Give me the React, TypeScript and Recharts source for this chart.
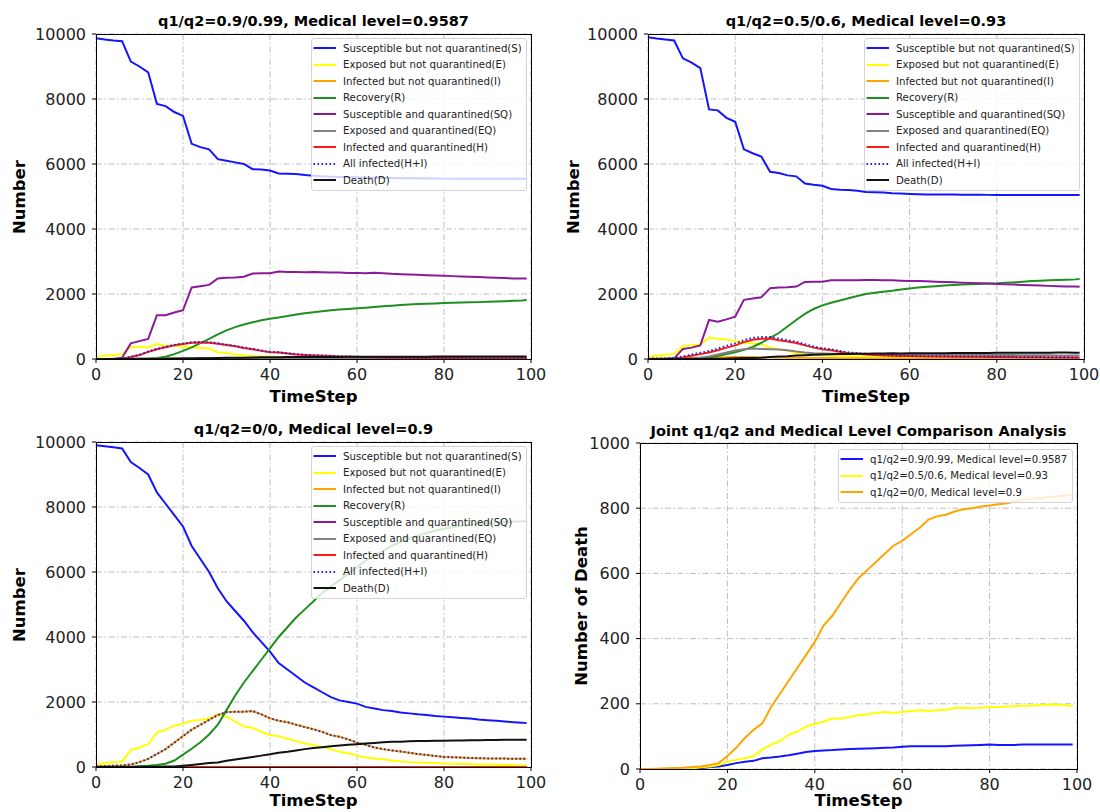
import { LineChart, Line, XAxis, YAxis, CartesianGrid } from 'recharts';

const FONT = '"DejaVu Sans", Verdana, sans-serif';

// time steps (every 2nd step plus the last one)
const T = [
    0, 2, 4, 6, 8, 10, 12, 14, 16, 18,
    20, 22, 24, 26, 28, 30, 32, 34, 36, 38,
    40, 42, 44, 46, 48, 50, 52, 54, 56, 58,
    60, 62, 64, 66, 68, 70, 72, 74, 76, 78,
    80, 82, 84, 86, 88, 90, 92, 94, 96, 98,
    99,
];

const X_TICKS = [0, 20, 40, 60, 80, 100];
const NUM_TICKS = [0, 2000, 4000, 6000, 8000, 10000];
const DEATH_TICKS = [0, 200, 400, 600, 800, 1000];

const TITLES = [
    'q1/q2=0.9/0.99, Medical level=0.9587',
    'q1/q2=0.5/0.6, Medical level=0.93',
    'q1/q2=0/0, Medical level=0.9',
];
const JOINT_TITLE = 'Joint q1/q2 and Medical Level Comparison Analysis';

const STATE_NAMES = [
    'Susceptible but not quarantined(S)',
    'Exposed but not quarantined(E)',
    'Infected but not quarantined(I)',
    'Recovery(R)',
    'Susceptible and quarantined(SQ)',
    'Exposed and quarantined(EQ)',
    'Infected and quarantined(H)',
    'All infected(H+I)',
    'Death(D)',
];

// ---- q1/q2=0.9/0.99 ----
const sA = [
    9870, 9830, 9800, 9780, 9150, 9000, 8820, 7850, 7780, 7600,
    7480, 6620, 6520, 6450, 6150, 6100, 6050, 6000, 5840, 5830,
    5800, 5710, 5700, 5690, 5660, 5640, 5620, 5610, 5600, 5600,
    5590, 5580, 5580, 5570, 5570, 5560, 5560, 5560, 5555, 5555,
    5550, 5550, 5550, 5550, 5550, 5550, 5550, 5550, 5550, 5550,
    5550,
];
const eA = [
    80, 100, 120, 150, 370, 370, 360, 470, 400, 400,
    390, 360, 340, 320, 200, 190, 140, 110, 90, 80,
    70, 60, 55, 50, 45, 40, 38, 35, 32, 30,
    28, 26, 25, 24, 22, 20, 19, 18, 17, 16,
    15, 14, 13, 13, 12, 12, 11, 11, 10, 10,
    10,
];
const iA = [
    2, 3, 4, 5, 6, 8, 10, 12, 14, 15,
    15, 15, 15, 14, 13, 12, 12, 11, 11, 10,
    10, 10, 9, 9, 9, 8, 8, 8, 7, 7,
    7, 7, 6, 6, 6, 6, 5, 5, 5, 5,
    5, 5, 5, 4, 4, 4, 4, 4, 4, 4,
    4,
];
const rA = [
    0, 0, 0, 0, 0, 5, 10, 30, 70, 150,
    250, 360, 490, 620, 760, 880, 980, 1060, 1130, 1190,
    1240, 1280, 1320, 1370, 1410, 1440, 1470, 1500, 1520, 1540,
    1560, 1580, 1600, 1620, 1640, 1660, 1680, 1690, 1700, 1710,
    1720, 1730, 1740, 1745, 1750, 1760, 1770, 1780, 1790, 1800,
    1820,
];
const sqA = [
    0, 0, 0, 40, 480, 550, 620, 1350, 1350, 1430,
    1500, 2200, 2240, 2280, 2480, 2500, 2510, 2530, 2630, 2640,
    2640, 2690, 2680, 2680, 2670, 2680, 2670, 2660, 2660, 2650,
    2650, 2640, 2650, 2640, 2620, 2610, 2600, 2590, 2580, 2570,
    2560, 2550, 2540, 2530, 2520, 2510, 2500, 2490, 2480, 2480,
    2480,
];
const eqA = [
    0, 0, 1, 2, 5, 8, 12, 15, 18, 20,
    22, 22, 21, 20, 18, 16, 15, 14, 13, 12,
    11, 10, 10, 9, 9, 8, 8, 7, 7, 7,
    6, 6, 6, 5, 5, 5, 5, 4, 4, 4,
    4, 4, 3, 3, 3, 3, 3, 3, 3, 3,
    3,
];
const hA = [
    0, 0, 0, 10, 60, 120, 220, 300, 360, 420,
    460, 500, 510, 500, 470, 430, 390, 340, 300, 250,
    210, 200, 170, 140, 120, 110, 100, 90, 80, 70,
    60, 55, 50, 45, 40, 38, 35, 33, 31, 30,
    29, 28, 27, 26, 25, 24, 23, 22, 21, 20,
    20,
];
const dA = [
    0, 0, 0, 0, 0, 1, 2, 3, 6, 8,
    12, 18, 22, 25, 33, 35, 38, 42, 47, 52,
    55, 57, 58, 60, 61, 62, 63, 64, 65, 66,
    68, 70, 70, 70, 70, 70, 71, 72, 73, 74,
    75, 74, 74, 74, 75, 75, 75, 75, 75, 75,
    75,
];

// ---- q1/q2=0.5/0.6 ----
const sB = [
    9900, 9860, 9830, 9800, 9250, 9120, 8950, 7680, 7650, 7420,
    7300, 6450, 6330, 6230, 5760, 5720, 5650, 5620, 5400, 5360,
    5330, 5230, 5210, 5200, 5180, 5140, 5130, 5120, 5100, 5090,
    5080, 5070, 5065, 5060, 5060, 5060, 5055, 5055, 5055, 5050,
    5050, 5050, 5050, 5050, 5050, 5050, 5050, 5050, 5050, 5050,
    5050,
];
const eB = [
    80, 100, 130, 150, 400, 420, 450, 650, 620, 600,
    550, 500, 480, 450, 350, 300, 250, 180, 150, 130,
    120, 110, 100, 90, 80, 75, 70, 65, 60, 58,
    55, 52, 50, 48, 46, 44, 42, 40, 38, 36,
    34, 32, 30, 29, 28, 26, 25, 24, 22, 21,
    20,
];
const iB = [
    10, 15, 20, 25, 30, 35, 40, 45, 50, 55,
    60, 60, 60, 55, 50, 45, 42, 40, 35, 32,
    30, 28, 26, 24, 22, 20, 18, 17, 16, 15,
    15, 14, 13, 12, 12, 11, 10, 10, 9, 9,
    8, 8, 7, 7, 6, 6, 6, 5, 5, 5,
    5,
];
const rB = [
    0, 0, 0, 0, 0, 10, 25, 50, 90, 150,
    210, 280, 370, 500, 650, 800, 1000, 1200, 1390, 1540,
    1650, 1730, 1800, 1870, 1940, 2000, 2040, 2070, 2100, 2140,
    2170, 2200, 2220, 2240, 2260, 2280, 2290, 2300, 2310, 2320,
    2330, 2350, 2360, 2380, 2400, 2410, 2420, 2430, 2440, 2450,
    2460,
];
const sqB = [
    0, 0, 0, 20, 310, 350, 420, 1200, 1150, 1220,
    1300, 1820, 1860, 1900, 2180, 2200, 2210, 2230, 2370, 2380,
    2380, 2420, 2420, 2420, 2420, 2430, 2430, 2420, 2420, 2410,
    2400, 2400, 2390, 2380, 2370, 2360, 2350, 2340, 2330, 2320,
    2310, 2300, 2290, 2280, 2270, 2260, 2250, 2240, 2230, 2230,
    2220,
];
const eqB = [
    0, 0, 0, 5, 10, 20, 40, 80, 140, 200,
    260, 300, 320, 310, 300, 290, 270, 230, 200, 180,
    170, 165, 160, 158, 156, 154, 152, 150, 148, 146,
    144, 142, 140, 138, 136, 134, 132, 130, 128, 126,
    124, 122, 120, 118, 116, 114, 112, 110, 108, 106,
    105,
];
const hB = [
    0, 0, 0, 10, 50, 100, 150, 200, 270, 350,
    420, 520, 590, 620, 630, 580, 540, 490, 420, 350,
    300, 270, 220, 180, 160, 140, 125, 110, 100, 95,
    90, 85, 80, 78, 75, 72, 70, 68, 66, 64,
    62, 60, 58, 56, 54, 52, 50, 48, 46, 44,
    42,
];
const dB = [
    0, 0, 0, 0, 0, 1, 2, 5, 8, 12,
    22, 28, 33, 40, 60, 75, 85, 105, 115, 130,
    138, 145, 155, 155, 160, 165, 168, 172, 175, 172,
    175, 178, 180, 178, 180, 182, 187, 188, 187, 188,
    190, 190, 192, 193, 194, 195, 196, 198, 197, 195,
    193,
];

// ---- q1/q2=0/0 ----
const sC = [
    9900, 9870, 9840, 9800, 9380, 9200, 9000, 8450, 8100, 7750,
    7400, 6800, 6400, 6000, 5500, 5100, 4800, 4500, 4150, 3850,
    3550, 3200, 3000, 2800, 2600, 2450, 2300, 2150, 2050, 2000,
    1950, 1850, 1800, 1750, 1720, 1680, 1650, 1620, 1600, 1570,
    1550, 1530, 1510, 1490, 1460, 1440, 1420, 1400, 1380, 1360,
    1350,
];
const eC = [
    80, 120, 150, 170, 520, 600, 700, 1060, 1150, 1280,
    1330, 1420, 1450, 1500, 1600, 1550, 1400, 1250, 1200, 1080,
    980, 950, 870, 800, 720, 680, 620, 550, 470, 420,
    350, 290, 260, 240, 200, 170, 150, 140, 130, 120,
    110, 100, 95, 90, 80, 75, 70, 60, 55, 50,
    45,
];
const iC = [
    20, 30, 40, 50, 80, 150, 250, 400, 550, 750,
    950, 1150, 1300, 1450, 1600, 1690, 1700, 1700, 1720, 1620,
    1500, 1420, 1380, 1300, 1230, 1160, 1080, 980, 930, 850,
    750, 680, 600, 550, 510, 480, 440, 400, 370, 340,
    310, 300, 290, 280, 270, 265, 260, 258, 255, 255,
    255,
];
const rC = [
    0, 0, 0, 5, 10, 20, 35, 60, 100, 200,
    380, 560, 760, 1000, 1300, 1750, 2200, 2600, 2950, 3300,
    3650, 4000, 4300, 4600, 4850, 5100, 5350, 5550, 5750, 5950,
    6150, 6350, 6500, 6650, 6800, 6920, 7030, 7120, 7200, 7270,
    7330, 7380, 7420, 7450, 7480, 7500, 7520, 7540, 7550, 7560,
    7570,
];
const zeroC = [
    0, 0, 0, 0, 0, 0, 0, 0, 0, 0,
    0, 0, 0, 0, 0, 0, 0, 0, 0, 0,
    0, 0, 0, 0, 0, 0, 0, 0, 0, 0,
    0, 0, 0, 0, 0, 0, 0, 0, 0, 0,
    0, 0, 0, 0, 0, 0, 0, 0, 0, 0,
    0,
];
const dC = [
    0, 0, 1, 2, 3, 4, 6, 8, 12, 18,
    40, 65, 95, 120, 140, 190, 230, 270, 310, 350,
    390, 440, 470, 510, 550, 585, 610, 635, 660, 685,
    700, 720, 740, 765, 775, 780, 790, 797, 800, 805,
    808, 812, 815, 822, 826, 830, 832, 835, 837, 840,
    840,
];

const BLUE = '#1414ff';
const YELLOW = '#ffff00';
const ORANGE = '#ffa500';
const GREEN = '#1f8f1f';
const PURPLE = '#8a1a9a';
const GRAY = '#808080';
const RED = '#ff1a1a';
const DOTBLUE = '#2424c8';
const BLACK = '#111111';

interface SeriesDef {
    key: string;
    name: string;
    color: string;
    dash?: string;
}

const STATE_SERIES: SeriesDef[] = [
    { key: 'S', name: STATE_NAMES[0], color: BLUE },
    { key: 'E', name: STATE_NAMES[1], color: YELLOW },
    { key: 'I', name: STATE_NAMES[2], color: ORANGE },
    { key: 'R', name: STATE_NAMES[3], color: GREEN },
    { key: 'SQ', name: STATE_NAMES[4], color: PURPLE },
    { key: 'EQ', name: STATE_NAMES[5], color: GRAY },
    { key: 'H', name: STATE_NAMES[6], color: RED },
    { key: 'HI', name: STATE_NAMES[7], color: DOTBLUE, dash: '1.6 2.4' },
    { key: 'D', name: STATE_NAMES[8], color: BLACK },
];

const DEATH_SERIES: SeriesDef[] = [
    { key: 'a', name: TITLES[0], color: BLUE },
    { key: 'b', name: TITLES[1], color: YELLOW },
    { key: 'c', name: TITLES[2], color: ORANGE },
];

function buildStates(s: number[], e: number[], i: number[], r: number[], sq: number[], eq: number[], h: number[], d: number[]) {
    return T.map((t, k) => ({
        t, S: s[k], E: e[k], I: i[k], R: r[k], SQ: sq[k], EQ: eq[k], H: h[k], HI: h[k] + i[k], D: d[k],
    }));
}

const dataA = buildStates(sA, eA, iA, rA, sqA, eqA, hA, dA);
const dataB = buildStates(sB, eB, iB, rB, sqB, eqB, hB, dB);
const dataC = buildStates(sC, eC, iC, rC, zeroC, zeroC, zeroC, dC);
const dataD = T.map((t, k) => ({ t, a: dA[k], b: dB[k], c: dC[k] }));

function LegendBox({ items, right, top, width }: { items: SeriesDef[]; right: number; top: number; width: number }) {
    return (
        <div style={{
            position: 'absolute', left: right - width, top, width, boxSizing: 'border-box',
            padding: '1px 0', background: 'rgba(255,255,255,0.8)', border: '1px solid #d4d4d4',
            borderRadius: 3, fontFamily: FONT, fontSize: 10.2, color: '#222',
        }}>
            {items.map((it) => (
                <div key={it.key} style={{ height: 16.5, display: 'flex', alignItems: 'center' }}>
                    <svg width={31} height={16} style={{ flex: 'none' }}>
                        <line x1={1.5} x2={24} y1={8} y2={8} stroke={it.color} strokeWidth={2} strokeDasharray={it.dash} />
                    </svg>
                    <span style={{ whiteSpace: 'nowrap' }}>{it.name}</span>
                </div>
            ))}
        </div>
    );
}

interface PanelProps {
    x0: number; y0: number; x1: number; y1: number;
    title: string; titleY: number;
    yLabel: string; yLabelX: number; xLabelY: number;
    yMax: number; yTicks: number[];
    data: Record<string, number>[];
    series: SeriesDef[];
    legendW: number; legendTop: number;
}

function Panel(p: PanelProps) {
    const padL = 80, padT = 12, padR = 24, padB = 34;
    const w = p.x1 - p.x0;
    const h = p.y1 - p.y0;
    const cx = (p.x0 + p.x1) / 2;
    const tickStyle = { fontSize: 16, fill: '#222', fontFamily: FONT };
    return (
        <>
            <div style={{ position: 'absolute', left: p.x0 - padL, top: p.y0 - padT }}>
                <LineChart width={w + padL + padR} height={h + padT + padB} data={p.data}
                    margin={{ top: padT, right: padR, bottom: 0, left: 0 }}>
                    <CartesianGrid stroke="#bdbdbd" strokeDasharray="6 2.5 1.5 2.5" />
                    <XAxis dataKey="t" type="number" domain={[0, 100]} ticks={X_TICKS} interval={0}
                        axisLine={false} tickSize={4} tickMargin={6} tickLine={{ stroke: '#000' }}
                        tick={tickStyle} height={padB} allowDataOverflow />
                    <YAxis type="number" domain={[0, p.yMax]} ticks={p.yTicks} interval={0} width={padL}
                        axisLine={false} tickSize={4} tickMargin={6} tickLine={{ stroke: '#000' }}
                        tick={tickStyle} allowDataOverflow />
                    {p.series.map((s) => (
                        <Line key={s.key} type="linear" dataKey={s.key} stroke={s.color} strokeWidth={2}
                            strokeDasharray={s.dash} dot={false} isAnimationActive={false} />
                    ))}
                </LineChart>
            </div>
            <div style={{
                position: 'absolute', left: p.x0, top: p.y0, width: w + 1, height: h + 1,
                boxSizing: 'border-box', border: '1px solid #000', pointerEvents: 'none',
            }} />
            <LegendBox items={p.series} right={p.x1 - 4} top={p.legendTop} width={p.legendW} />
            <div style={{
                position: 'absolute', left: cx, top: p.titleY, transform: 'translate(-50%, -50%)',
                fontFamily: FONT, fontWeight: 'bold', fontSize: 14.5, whiteSpace: 'nowrap', color: '#000',
            }}>{p.title}</div>
            <div style={{
                position: 'absolute', left: cx, top: p.xLabelY, transform: 'translate(-50%, -50%)',
                fontFamily: FONT, fontWeight: 'bold', fontSize: 16.5, whiteSpace: 'nowrap', color: '#000',
                lineHeight: '18px',
            }}>TimeStep</div>
            <div style={{
                position: 'absolute', left: p.yLabelX, top: (p.y0 + p.y1) / 2,
                transform: 'translate(-50%, -50%) rotate(-90deg)',
                fontFamily: FONT, fontWeight: 'bold', fontSize: 16.5, whiteSpace: 'nowrap', color: '#000',
            }}>{p.yLabel}</div>
        </>
    );
}

export default function App() {
    return (
        <div style={{ position: 'absolute', left: 0, top: 0, width: 1100, height: 812, background: '#fff', overflow: 'hidden' }}>
            <Panel x0={96} y0={34} x1={531} y1={359} title={TITLES[0]} titleY={21}
                yLabel="Number" yLabelX={19} xLabelY={397} yMax={10000} yTicks={NUM_TICKS}
                data={dataA} series={STATE_SERIES} legendW={216} legendTop={38} />
            <Panel x0={648} y0={34} x1={1084} y1={359} title={TITLES[1]} titleY={21}
                yLabel="Number" yLabelX={573} xLabelY={397} yMax={10000} yTicks={NUM_TICKS}
                data={dataB} series={STATE_SERIES} legendW={216} legendTop={38} />
            <Panel x0={96} y0={442} x1={531} y1={767} title={TITLES[2]} titleY={429}
                yLabel="Number" yLabelX={19} xLabelY={801} yMax={10000} yTicks={NUM_TICKS}
                data={dataC} series={STATE_SERIES} legendW={216} legendTop={446} />
            <Panel x0={640} y0={443} x1={1077} y1={769} title={JOINT_TITLE} titleY={431}
                yLabel="Number of Death" yLabelX={581} xLabelY={801} yMax={1000} yTicks={DEATH_TICKS}
                data={dataD} series={DEATH_SERIES} legendW={235} legendTop={449} />
        </div>
    );
}
